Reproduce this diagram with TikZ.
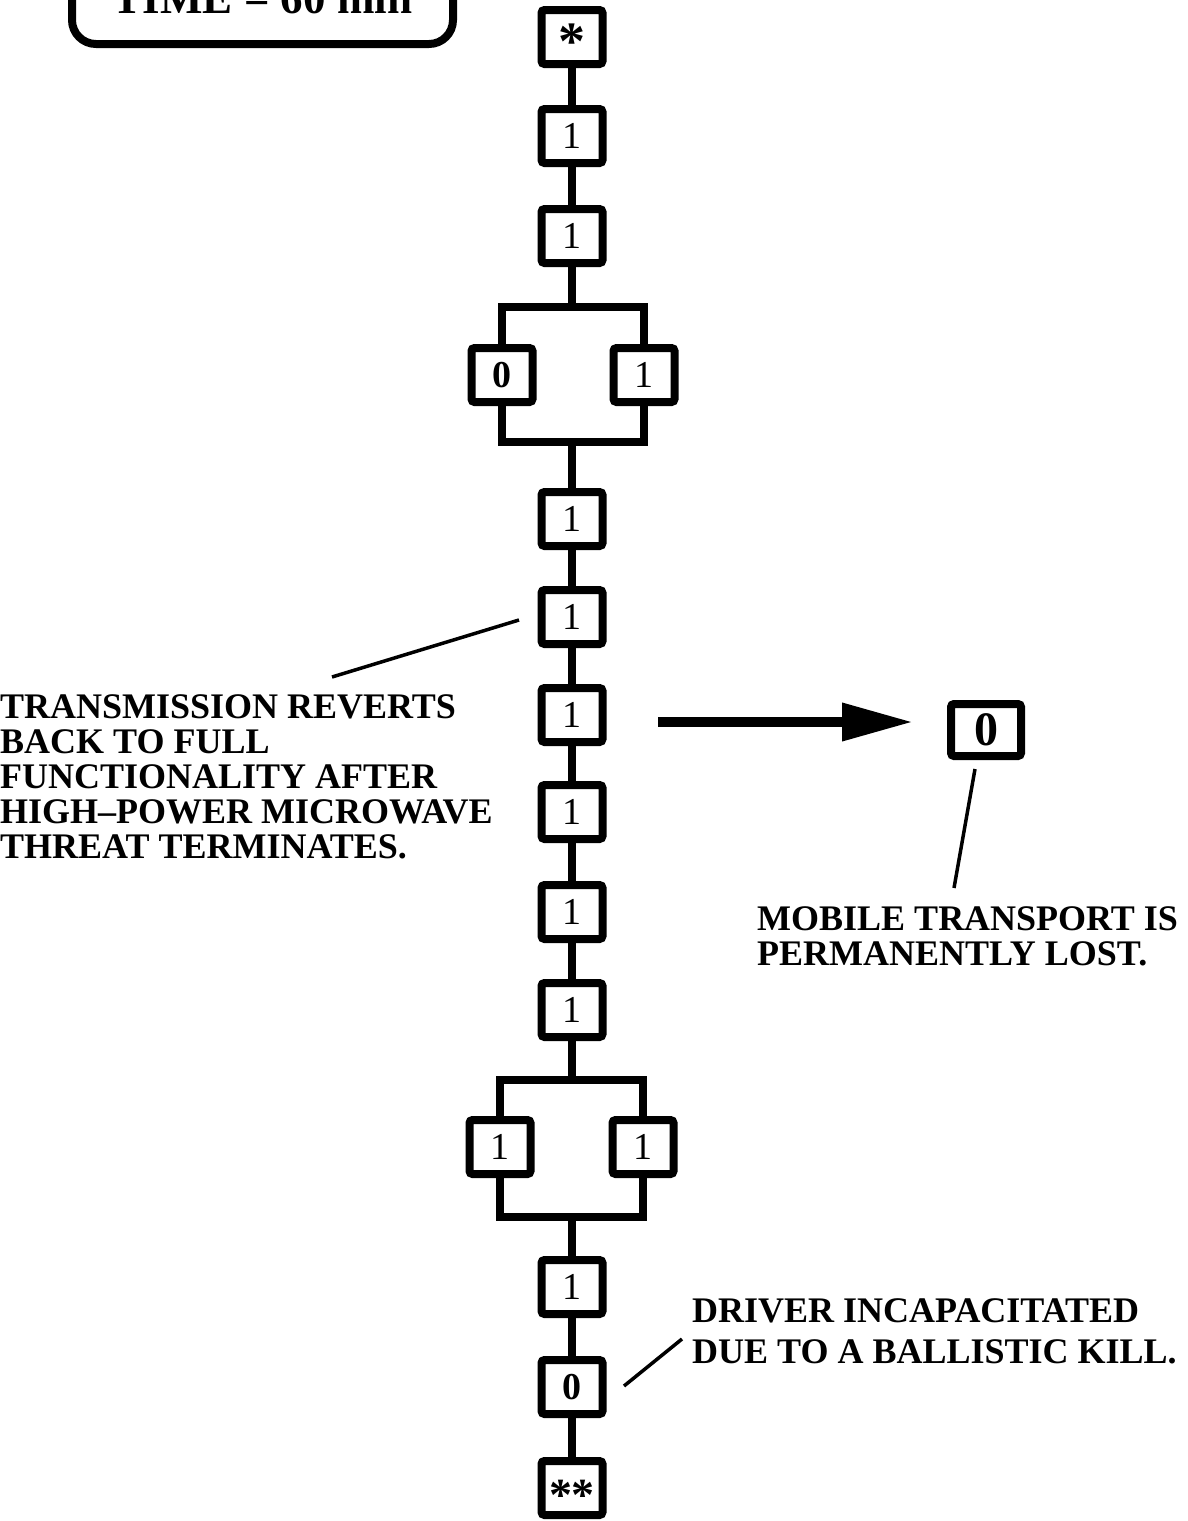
\documentclass[tikz,border=0pt]{standalone}
\usepackage{fontspec}
\setmainfont{Liberation Serif}
\usetikzlibrary{arrows.meta}
\tikzset{
  blk/.style={draw, line width=8pt, minimum width=61pt, minimum height=54pt,
    inner sep=0pt, rounded corners=3pt, font=\fontsize{38}{38}\selectfont},
  wire/.style={line width=7.5pt, line join=miter},
  lead/.style={line width=3.5pt},
  note/.style={font=\bfseries\fontsize{36}{35}\selectfont, align=left,
    inner sep=0pt, anchor=north west},
  bigarrow/.style={line width=10pt, -{Triangle[length=71pt,width=36pt]}},
  timebox/.style={draw, line width=8pt, rounded corners=24pt, minimum width=381pt,
    minimum height=92pt, inner sep=0pt, font=\bfseries\fontsize{45}{45}\selectfont}
}
\newcommand{\astk}[2]{\raisebox{-0.6em}[0pt][0pt]{\bfseries\fontsize{#1}{#1}\selectfont #2}}
\begin{document}
\begin{tikzpicture}[x=1pt,y=-1pt]
\useasboundingbox (0,0) rectangle (1188,1521);

% title box (cut at top)
\node[timebox] (time) at (262.5,-2) {TIME = 60 min};

% main column
\node[blk] (b1) at (572,37) {\astk{54}{*}};
\node[blk] (b2) at (572,136) {1};
\node[blk] (b3) at (572,236) {1};
\node[blk] (p1L) at (502,375) {\textbf{0}};
\node[blk] (p1R) at (644,375) {1};
\coordinate (p1t) at (572,307);
\coordinate (p1b) at (572,442);
\node[blk] (b4) at (572,519) {1};
\node[blk] (b5) at (572,617) {1};
\node[blk] (b6) at (572,715) {1};
\node[blk] (b7) at (572,812) {1};
\node[blk] (b8) at (572,912) {1};
\node[blk] (b9) at (572,1010) {1};
\node[blk] (p2L) at (500,1147) {1};
\node[blk] (p2R) at (643,1147) {1};
\coordinate (p2t) at (572,1080);
\coordinate (p2b) at (572,1217);
\node[blk] (b10) at (572,1287) {1};
\node[blk] (b11) at (572,1387) {\textbf{0}};
\node[blk] (b12) at (572,1488) {\astk{46}{*\kern-0.04em*}};

% connectors
\draw[wire] (b1) -- (b2);
\draw[wire] (b2) -- (b3);
\draw[wire] (b3) -- (p1t);
\draw[wire] (p1L.north) |- (p1t) -| (p1R.north);
\draw[wire] (p1L.south) |- (p1b) -| (p1R.south);
\draw[wire] (p1b) -- (b4);
\draw[wire] (b4) -- (b5);
\draw[wire] (b5) -- (b6);
\draw[wire] (b6) -- (b7);
\draw[wire] (b7) -- (b8);
\draw[wire] (b8) -- (b9);
\draw[wire] (b9) -- (p2t);
\draw[wire] (p2L.north) |- (p2t) -| (p2R.north);
\draw[wire] (p2L.south) |- (p2b) -| (p2R.south);
\draw[wire] (p2b) -- (b10);
\draw[wire] (b10) -- (b11);
\draw[wire] (b11) -- (b12);

% right box and arrow
\node[blk, minimum width=70pt, minimum height=52pt, font=\bfseries\fontsize{48}{48}\selectfont] (z) at (986,730) {0};
\coordinate (as) at (658,722);
\coordinate (ae) at (913,722);
\draw[bigarrow] (as) -- (ae);

% notes
\node[note] (tnote) at (0,694) {TRANSMISSION REVERTS\\BACK TO FULL\\FUNCTIONALITY AFTER\\HIGH--POWER MICROWAVE\\THREAT TERMINATES.};
\node[note] (mnote) at (757,906) {MOBILE TRANSPORT IS\\PERMANENTLY LOST.};
\node[note, font=\bfseries\fontsize{36}{41}\selectfont] (dnote) at (692,1298) {DRIVER INCAPACITATED\\DUE TO A BALLISTIC KILL.};

% leader lines
\coordinate (t1) at (332,677);
\coordinate (t2) at (519,620);
\draw[lead] (t1) -- (t2);
\coordinate (m1) at (975,769);
\coordinate (m2) at (954,888);
\draw[lead] (m1) -- (m2);
\coordinate (d1) at (624,1386);
\coordinate (d2) at (682,1339);
\draw[lead] (d1) -- (d2);
\end{tikzpicture}
\end{document}
